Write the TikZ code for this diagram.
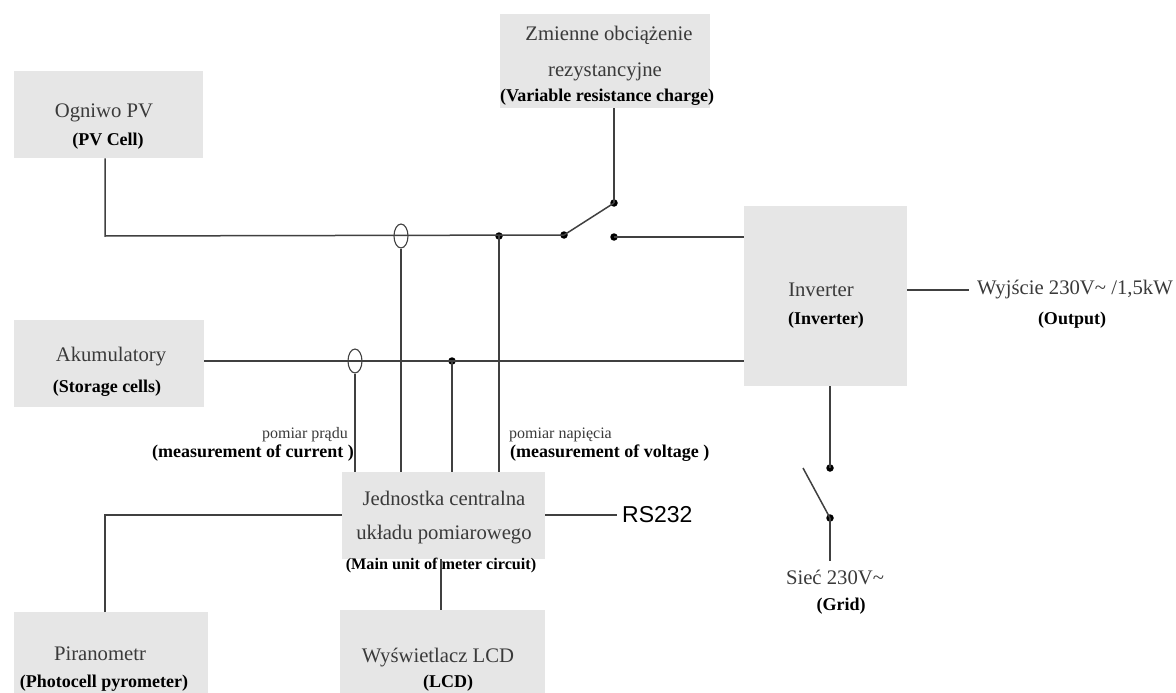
\documentclass[tikz,border=0pt]{standalone}
\usepackage{xcolor}
\usepackage{fontspec}
\setmainfont{Liberation Serif}
\setsansfont{Liberation Sans}
\usetikzlibrary{shapes.geometric, positioning, calc}
\definecolor{boxgray}{HTML}{E6E6E6}
\definecolor{wiregray}{HTML}{404040}
\definecolor{txtgray}{HTML}{3A3A3A}

\begin{document}
\begin{tikzpicture}[
    x=1pt, y=-1pt,
    block/.style={fill=boxgray, draw=none, inner sep=0, anchor=north west},
    wire/.style={draw=wiregray, line width=1.5pt},
    contact/.style={circle, fill=black, draw=none, minimum size=7.5pt, inner sep=0},
    sensor/.style={ellipse, draw=wiregray, line width=1.1pt, minimum width=14pt, minimum height=24pt, inner sep=0},
    pl/.style={font=\fontsize{20.7}{24}\selectfont, text=txtgray, inner sep=0},
    en/.style={font=\fontsize{18}{21}\selectfont\bfseries, text=black, inner sep=0},
    plsmall/.style={font=\fontsize{16}{19}\selectfont, text=txtgray, inner sep=0},
]
    \useasboundingbox (0,0) rectangle (1176,693);

    % Blocks
    \node[block, minimum width=189pt, minimum height=87pt] (pv) at (14,71) {};
    \node[block, minimum width=210pt, minimum height=94pt] (load) at (500,14) {};
    \node[block, minimum width=190pt, minimum height=87pt] (batt) at (14,320) {};
    \node[block, minimum width=163pt, minimum height=180pt] (inv) at (744,206) {};
    \node[block, minimum width=203pt, minimum height=87pt] (cpu) at (342,472) {};
    \node[block, minimum width=205pt, minimum height=83pt] (lcd) at (340,610) {};
    \node[block, minimum width=194pt, minimum height=81pt] (pyr) at (14,612) {};

    % Texts in the blocks
    \node[pl] (pvpl) at (104,113) {Ogniwo PV};
    \node[en] (pven) at (108,141) {(PV Cell)};
    \node[pl] (loadpl) at (609,35) {Zmienne obciążenie};
    \node[pl] (loadpl2) at (605,72) {rezystancyjne};
    \node[en] (loaden) at (607,97) {(Variable resistance charge)};
    \node[pl] (battpl) at (111,357) {Akumulatory};
    \node[en] (batten) at (107,388) {(Storage cells)};
    \node[pl] (invpl) at (821,290) {Inverter};
    \node[en] (inven) at (826,320) {(Inverter)};
    \node[pl] (cpupl) at (444,498) {Jednostka centralna};
    \node[pl] (cpupl2) at (444,535) {układu pomiarowego};
    \node[en, font=\fontsize{16.2}{19}\selectfont\bfseries] (cpuen) at (441,566) {(Main unit of meter circuit)};
    \node[pl] (lcdpl) at (438,658) {Wyświetlacz LCD};
    \node[en] (lcden) at (448,683) {(LCD)};
    \node[pl] (pyrpl) at (100,654) {Piranometr};
    \node[en] (pyren) at (104,683) {(Photocell pyrometer)};

    % Free labels
    \node[plsmall, anchor=east] (ipl) at (348,435) {pomiar prądu};
    \node[en, anchor=east] (ien) at (354,453) {(measurement of current )};
    \node[plsmall, anchor=west] (upl) at (509,435) {pomiar napięcia};
    \node[en, anchor=west] (uen) at (510,453) {(measurement of voltage )};
    \node[font=\sffamily\fontsize{23}{26}\selectfont, text=black, inner sep=0, anchor=west] (rs) at (622,515) {RS232};
    \node[pl, anchor=east] (outpl) at (1173,290) {Wyjście 230V\textasciitilde{} /1,5kW};
    \node[en] (outen) at (1072,320) {(Output)};
    \node[pl] (gridpl) at (835,577) {Sieć 230V\textasciitilde};
    \node[en] (griden) at (841,606) {(Grid)};

    % Contacts and sensors
    \node[sensor] (spv) at (401,236) {};
    \node[sensor] (sbatt) at (355,361) {};
    \node[contact] (jv) at (499,236) {};
    \node[contact] (jb) at (452,361) {};
    \node[contact] (sw1) at (564,235) {};
    \node[contact] (sw2) at (614,203) {};
    \node[contact] (sw3) at (614,237) {};
    \node[contact] (sw4) at (830,468) {};
    \node[contact] (sw5) at (830,518) {};
    \coordinate (bend) at (105,236);
    \coordinate (bendb) at (105,515);
    \coordinate (blade) at (803,468);
    \coordinate (gridend) at (830,561);

    % PV line and load switch
    \draw[wire] (pv.south -| bend) -- (bend) -- (sw1.center);
    \draw[wire] (sw1.center) -- (sw2.center);
    \draw[wire] (load.south -| sw2) -- (sw2.center);
    \draw[wire] (sw3.center) -- (inv.west |- sw3);

    % Battery line
    \draw[wire] (batt.east |- sbatt) -- (inv.west |- sbatt);

    % Measurement lines
    \draw[wire] (spv.south) -- (cpu.north -| spv);
    \draw[wire] (sbatt.south) -- (cpu.north -| sbatt);
    \draw[wire] (jb.center) -- (cpu.north -| jb);
    \draw[wire] (jv.center) -- (cpu.north -| jv);

    % Central unit
    \draw[wire] (pyr.north -| bendb) -- (bendb) -- (cpu.west |- bendb);
    \draw[wire] (cpu.east |- rs) -- ($(rs.west)+(-5,0)$);
    \draw[wire] (cpuen.center |- cpu.south) -- (cpuen.center |- lcd.north);

    % Inverter output and grid switch
    \draw[wire] (inv.east |- outpl) -- ($(outpl.west)+(-8,0)$);
    \draw[wire] (inv.south -| sw4) -- (sw4.center);
    \draw[wire] (blade) -- (sw5.center);
    \draw[wire] (sw5.center) -- (gridend);
\end{tikzpicture}
\end{document}
